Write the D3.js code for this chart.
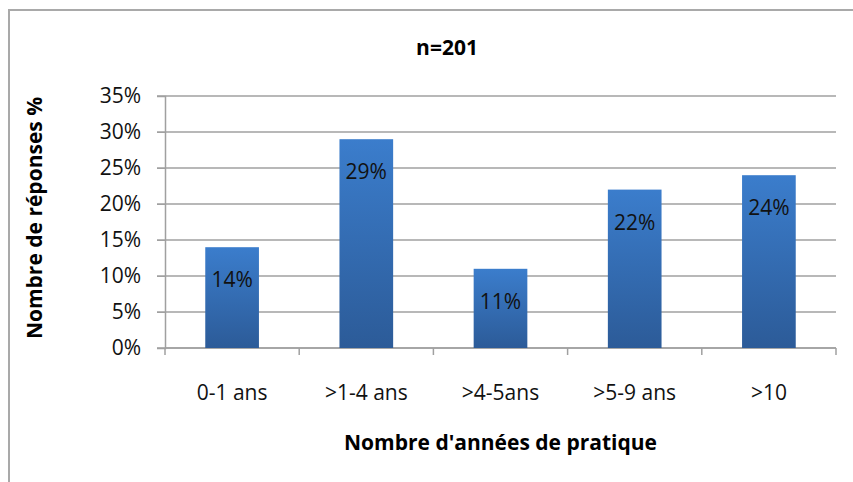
<!DOCTYPE html>
<html>
<head>
<meta charset="utf-8">
<style>
  body { margin: 0; background: #fff; }
  text { font-family: "Open Sans", "Liberation Sans", sans-serif; }
</style>
</head>
<body>
<div id="chart"></div>
<script src="https://d3js.org/d3.v7.min.js"></script>
<script>
// data
var categories = ["0-1 ans", ">1-4 ans", ">4-5ans", ">5-9 ans", ">10"];
var values = [14, 29, 11, 22, 24];
var yTicks = [0, 5, 10, 15, 20, 25, 30, 35];

var W = 853, H = 482;
var margin = {top: 96, right: 17, bottom: 134, left: 165};
var width = W - margin.left - margin.right,
    height = H - margin.top - margin.bottom;

var svg = d3.select("#chart").append("svg")
    .attr("width", W)
    .attr("height", H);

// outer chart frame (runs off the right and bottom)
svg.append("path")
    .attr("d", "M9,482V10H853")
    .attr("fill", "none")
    .attr("stroke", "#a9a9a9")
    .attr("stroke-width", 2);

var defs = svg.append("defs");
var grad = defs.append("linearGradient")
    .attr("id", "barGrad")
    .attr("x1", 0).attr("y1", 0).attr("x2", 0).attr("y2", 1);
grad.append("stop").attr("offset", "0%").attr("stop-color", "#3b7dcc");
grad.append("stop").attr("offset", "100%").attr("stop-color", "#2c5b98");

var g = svg.append("g")
    .attr("transform", "translate(" + margin.left + "," + margin.top + ")");

var x = d3.scaleBand()
    .domain(categories)
    .range([0, width])
    .paddingInner(0.6)
    .paddingOuter(0.3);

var y = d3.scaleLinear()
    .domain([0, 35])
    .range([height, 0]);

// gridlines
g.append("g")
  .selectAll("line")
  .data(yTicks)
  .enter().append("line")
    .attr("x1", -8)
    .attr("x2", width)
    .attr("y1", function(d) { return y(d); })
    .attr("y2", function(d) { return y(d); })
    .attr("stroke", "#a0a0a0")
    .attr("stroke-width", 1.5);

// y axis
var yAxis = g.append("g")
    .call(d3.axisLeft(y).tickValues(yTicks).tickSize(8).tickPadding(16)
      .tickFormat(function(d) { return d + "%"; }));
yAxis.select(".domain").attr("stroke", "#a0a0a0").attr("stroke-width", 1.5);
yAxis.selectAll(".tick line").attr("stroke", "#a0a0a0");
yAxis.selectAll("text").attr("fill", "#111").style("font-size", "21px");

// x axis: ticks at band edges
var edges = categories.map(function(c) { return x(c) - x.step() * x.paddingInner() / 2; })
    .concat([width]);
var xAxis = g.append("g").attr("transform", "translate(0," + height + ")");
xAxis.append("line")
    .attr("x1", 0).attr("x2", width)
    .attr("stroke", "#a0a0a0").attr("stroke-width", 1.5);
xAxis.selectAll(".edge")
  .data(edges)
  .enter().append("line")
    .attr("class", "edge")
    .attr("x1", function(d) { return d; })
    .attr("x2", function(d) { return d; })
    .attr("y1", 0).attr("y2", 7)
    .attr("stroke", "#a0a0a0").attr("stroke-width", 1.5);
xAxis.selectAll(".lbl")
  .data(categories)
  .enter().append("text")
    .attr("class", "lbl")
    .attr("x", function(d) { return x(d) + x.bandwidth() / 2; })
    .attr("y", 52)
    .attr("text-anchor", "middle")
    .attr("fill", "#111")
    .style("font-size", "21px")
    .text(function(d) { return d; });

// bars
var data = categories.map(function(c, i) { return {cat: c, val: values[i]}; });
g.selectAll(".bar")
  .data(data)
  .enter().append("rect")
    .attr("class", "bar")
    .attr("x", function(d) { return x(d.cat); })
    .attr("y", function(d) { return y(d.val); })
    .attr("width", x.bandwidth())
    .attr("height", function(d) { return height - y(d.val); })
    .attr("fill", "url(#barGrad)");

g.selectAll(".val")
  .data(data)
  .enter().append("text")
    .attr("class", "val")
    .attr("x", function(d) { return x(d.cat) + x.bandwidth() / 2; })
    .attr("y", function(d) { return y(d.val) + 40; })
    .attr("text-anchor", "middle")
    .attr("fill", "#111")
    .style("font-size", "21px")
    .text(function(d) { return d.val + "%"; });

// titles
svg.append("text")
    .attr("x", 447)
    .attr("y", 55)
    .attr("text-anchor", "middle")
    .style("font-size", "21px")
    .style("font-weight", "bold")
    .text("n=201");

svg.append("text")
    .attr("x", margin.left + width / 2)
    .attr("y", 450)
    .attr("text-anchor", "middle")
    .style("font-size", "21px")
    .style("font-weight", "bold")
    .text("Nombre d'années de pratique");

svg.append("text")
    .attr("transform", "translate(42,218) rotate(-90)")
    .attr("text-anchor", "middle")
    .style("font-size", "21px")
    .style("font-weight", "bold")
    .text("Nombre de réponses %");
</script>
</body>
</html>
